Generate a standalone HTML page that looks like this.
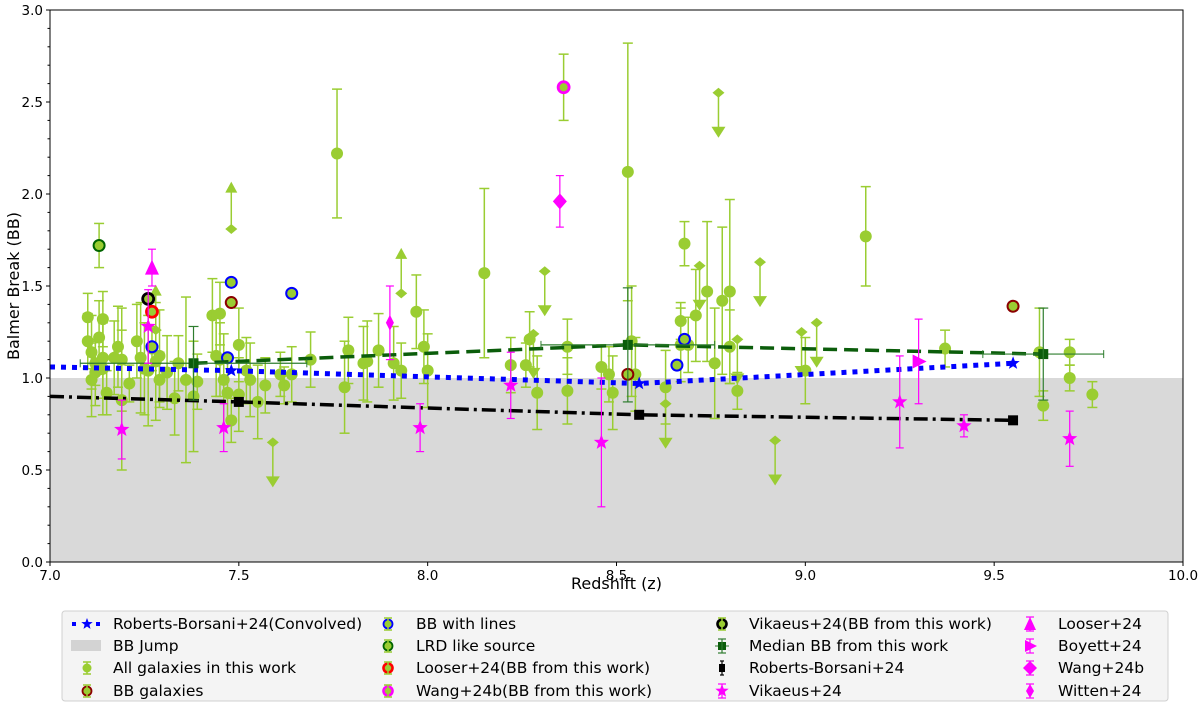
<!DOCTYPE html>
<html><head><meta charset="utf-8"><style>
body{margin:0;background:#fff;width:1200px;height:712px;overflow:hidden;font-family:"DejaVu Sans","Liberation Sans",sans-serif}
svg text{font-family:"DejaVu Sans","Liberation Sans",sans-serif}
</style></head><body>
<svg id="chart" width="1200" height="712" xmlns="http://www.w3.org/2000/svg"></svg>
<script>
// ---- data ----
const galZ  =[7.13,7.10,7.10,7.11,7.11,7.12,7.12,7.13,7.14,7.14,7.14,7.15,7.17,7.18,7.19,7.19,7.21,7.23,7.24,7.25,7.26,7.27,7.28,7.29,7.29,7.31,7.33,7.34,7.36,7.38,7.39,7.43,7.44,7.45,7.45,7.46,7.47,7.48,7.50,7.50,7.52,7.53,7.55,7.57,7.61,7.62,7.64,7.69,7.76,7.78,7.79,7.83,7.84,7.87,7.91,7.93,7.97,7.99,8.00,8.15,8.22,8.26,8.27,8.29,8.37,8.37,8.46,8.48,8.49,8.53,8.54,8.55,8.63,8.67,8.67,8.68,8.69,8.71,8.74,8.76,8.78,8.80,8.80,8.82,9.00,9.16,9.37,9.62,9.63,9.70,9.70,9.76,8.36];
const galBB =[1.72,1.33,1.20,1.14,0.99,1.08,1.03,1.22,1.32,1.11,1.05,0.92,1.11,1.17,1.10,0.88,0.97,1.20,1.11,1.05,1.04,1.16,1.09,1.12,0.99,1.03,0.89,1.08,0.99,0.90,0.98,1.34,1.12,1.35,1.10,0.99,0.92,0.77,1.18,0.91,1.04,0.99,0.87,0.96,1.02,0.96,1.02,1.10,2.22,0.95,1.15,1.08,1.09,1.15,1.08,1.04,1.36,1.17,1.04,1.57,1.07,1.07,1.21,0.92,1.17,0.93,1.06,1.02,0.92,2.12,1.20,1.02,0.95,1.18,1.31,1.73,1.18,1.34,1.47,1.08,1.42,1.47,1.17,0.93,1.04,1.77,1.16,1.14,0.85,1.14,1.00,0.91,2.58];
const galErr=[0.12,0.13,0.15,0.2,0.2,0.12,0.18,0.2,0.15,0.22,0.25,0.12,0.2,0.22,0.28,0.38,0.1,0.2,0.3,0.25,0.3,0.12,0.32,0.25,0.15,0.2,0.2,0.15,0.45,0.3,0.15,0.2,0.22,0.17,0.2,0.25,0.18,0.12,0.2,0.2,0.18,0.2,0.2,0.15,0.12,0.1,0.15,0.15,0.35,0.25,0.18,0.2,0.22,0.2,0.2,0.15,0.2,0.2,0.2,0.46,0.15,0.12,0.15,0.2,0.15,0.18,0.12,0.15,0.2,0.7,0.3,0.2,0.2,0.2,0.1,0.12,0.15,0.25,0.38,0.3,0.4,0.5,0.2,0.1,0.18,0.27,0.1,0.24,0.08,0.07,0.07,0.07,0.18];
const ulZ =[7.59,8.31,8.28,8.63,8.72,8.77,8.88,8.82,8.99,9.03,8.92];
const ulBB=[0.65,1.58,1.24,0.86,1.61,2.55,1.63,1.21,1.25,1.30,0.66];
const llZ =[7.48,7.28,7.93];
const llBB=[1.81,1.26,1.46];
const llTop=[2.04,1.48,1.68];
const vikZ =[7.19,7.26,7.46,7.98,8.22,8.46,9.25,9.42,9.70];
const vikBB=[0.72,1.28,0.73,0.73,0.96,0.65,0.87,0.74,0.67];
const vikErr=[0.16,0.2,0.13,0.13,0.18,0.35,0.25,0.06,0.15];
const linesZ=[7.27,7.48,7.47,7.64,8.66,8.68];
const linesBB=[1.17,1.52,1.11,1.46,1.07,1.21];
const bbgZ=[7.48,8.53,9.55];
const bbgBB=[1.41,1.02,1.39];
const medZ=[7.38,8.53,9.63];
const medBB=[1.08,1.18,1.13];
const medXErr=[0.3,0.23,0.16];
const medYErr=[0.2,0.31,0.25];
const rbcZ=[7.0,7.48,8.56,9.55];
const rbcBB=[1.06,1.04,0.97,1.08];
const rbZ=[7.0,7.50,8.56,9.55];
const rbBB=[0.90,0.87,0.80,0.77];
const xTicks=["7.0","7.5","8.0","8.5","9.0","9.5","10.0"];
const yTicks=["0.0","0.5","1.0","1.5","2.0","2.5","3.0"];

// ---- scales ----
const X0=50,X1=1183,Y0=562,Y1=10;
const sx=z=>X0+(z-7)/3*(X1-X0);
const sy=b=>Y0-b/3*(Y0-Y1);
const svg=document.getElementById('chart');
const NS='http://www.w3.org/2000/svg';
function el(tag,attrs,parent){const e=document.createElementNS(NS,tag);for(const k in attrs)e.setAttribute(k,attrs[k]);(parent||svg).appendChild(e);return e;}
const G='#9acd32',M='#ff00ff';

let r=el('rect',{x:X0,y:Y1,width:X1-X0,height:Y0-Y1,fill:'#fff'});


r=el('rect',{x:X0,y:sy(1),width:X1-X0,height:Y0-sy(1),fill:'#d9d9d9'});



function errV(x,y1,y2,c,w,cap){el('line',{x1:x,x2:x,y1:y1,y2:y2,stroke:c,'stroke-width':w||1.5});el('line',{x1:x-cap,x2:x+cap,y1:y1,y2:y1,stroke:c,'stroke-width':w||1.5});el('line',{x1:x-cap,x2:x+cap,y1:y2,y2:y2,stroke:c,'stroke-width':w||1.5});}
function star(cx,cy,R,fill,g){let p=[];for(let i=0;i<10;i++){const a=-Math.PI/2+i*Math.PI/5;const rr=i%2?R*0.42:R;p.push((cx+rr*Math.cos(a)).toFixed(1)+','+(cy+rr*Math.sin(a)).toFixed(1));}return el('polygon',{points:p.join(' '),fill:fill},g);}

for(let i=0;i<galZ.length;i++){const g=el('g',{});


const x=sx(galZ[i]),y=sy(galBB[i]);errV(x,sy(galBB[i]+galErr[i]),sy(Math.max(0,galBB[i]-galErr[i])),G,1.5,5);
el('circle',{cx:x,cy:y,r:6,fill:G},g);}
for(let i=0;i<ulZ.length;i++){const g=el('g',{});


const x=sx(ulZ[i]),y=sy(ulBB[i]);el('line',{x1:x,x2:x,y1:y,y2:y+38,stroke:G,'stroke-width':1.5},g);
el('polygon',{points:`${x-7},${y+34} ${x+7},${y+34} ${x},${y+45}`,fill:G},g);
el('polygon',{points:`${x-6},${y} ${x},${y-5} ${x+6},${y} ${x},${y+5}`,fill:G},g);}
for(let i=0;i<llZ.length;i++){const g=el('g',{});


const x=sx(llZ[i]),y=sy(llBB[i]),t=sy(llTop[i]);el('line',{x1:x,x2:x,y1:y,y2:t,stroke:G,'stroke-width':1.5},g);
el('polygon',{points:`${x-6},${t+6} ${x+6},${t+6} ${x},${t-5}`,fill:G},g);
el('polygon',{points:`${x-6},${y} ${x},${y-5} ${x+6},${y} ${x},${y+5}`,fill:G},g);}

function ring(z,b,c,name,w){const e=el('circle',{cx:sx(z),cy:sy(b),r:5.5,fill:G,stroke:c,'stroke-width':w||2});}
for(let i=0;i<linesZ.length;i++){ring(linesZ[i],linesBB[i],'#0000ff','bb-with-lines-point');}
for(let i=0;i<bbgZ.length;i++){ring(bbgZ[i],bbgBB[i],'#8b0000','bb-galaxy-point');}
ring(7.13,1.72,'#006400','lrd-source-point');
ring(7.26,1.43,'#000','vikaeus-this-work-point',2.8);
ring(7.27,1.36,'#ff0000','looser-this-work-point',2.8);
ring(8.36,2.58,M,'wang-this-work-point',2.8);

let pts=rbcZ.map((z,i)=>sx(z)+','+sy(rbcBB[i])).join(' ');
let pl=el('polyline',{points:pts,fill:'none',stroke:'#0000ff','stroke-width':5,'stroke-dasharray':'5,6'});


for(let i=1;i<rbcZ.length;i++){const s=star(sx(rbcZ[i]),sy(rbcBB[i]),7,'#0000ff');}
pts=rbZ.map((z,i)=>sx(z)+','+sy(rbBB[i])).join(' ');
pl=el('polyline',{points:pts,fill:'none',stroke:'#000','stroke-width':3.5,'stroke-dasharray':'14,5,3,5'});


for(let i=1;i<rbZ.length;i++){const s=el('rect',{x:sx(rbZ[i])-5,y:sy(rbBB[i])-5,width:10,height:10,fill:'#000'});}
pts=medZ.map((z,i)=>sx(z)+','+sy(medBB[i])).join(' ');
pl=el('polyline',{points:pts,fill:'none',stroke:'#0b5d0b','stroke-width':3.5,'stroke-dasharray':'14,7'});


for(let i=0;i<medZ.length;i++){const g=el('g',{});


const x=sx(medZ[i]),y=sy(medBB[i]),c='#2e7d2e';
el('line',{x1:sx(medZ[i]-medXErr[i]),x2:sx(medZ[i]+medXErr[i]),y1:y,y2:y,stroke:c,'stroke-width':1.2},g);
el('line',{x1:sx(medZ[i]-medXErr[i]),x2:sx(medZ[i]-medXErr[i]),y1:y-4,y2:y+4,stroke:c},g);
el('line',{x1:sx(medZ[i]+medXErr[i]),x2:sx(medZ[i]+medXErr[i]),y1:y-4,y2:y+4,stroke:c},g);
errV(x,sy(medBB[i]+medYErr[i]),sy(medBB[i]-medYErr[i]),c,1.2,5);
el('rect',{x:x-5,y:y-5,width:10,height:10,fill:'#0b5d0b'},g);}

for(let i=0;i<vikZ.length;i++){const g=el('g',{});


const x=sx(vikZ[i]);errV(x,sy(vikBB[i]+vikErr[i]),sy(vikBB[i]-vikErr[i]),M,1.2,4);star(x,sy(vikBB[i]),8,M,g);}
function mg(z,b,e,name,shape){const x=sx(z),y=sy(b);const g=el('g',{});
errV(x,sy(b+e),sy(b-e),M,1.2,4);
if(shape==='tri')el('polygon',{points:`${x-7},${y+7} ${x+7},${y+7} ${x},${y-8}`,fill:M},g);
if(shape==='right')el('polygon',{points:`${x-6},${y-7} ${x-6},${y+7} ${x+8},${y}`,fill:M},g);
if(shape==='dia')el('polygon',{points:`${x-7},${y} ${x},${y-8} ${x+7},${y} ${x},${y+8}`,fill:M},g);
if(shape==='thin')el('polygon',{points:`${x-4},${y} ${x},${y-8} ${x+4},${y} ${x},${y+8}`,fill:M},g);}
mg(7.27,1.60,0.1,'looser-point','tri');
mg(9.30,1.09,0.23,'boyett-point','right');
mg(8.35,1.96,0.14,'wang-point','dia');
mg(7.90,1.30,0.2,'witten-point','thin');

r=el('rect',{x:X0,y:Y1,width:X1-X0,height:Y0-Y1,fill:'none',stroke:'#000','stroke-width':1});


xTicks.forEach((t,i)=>{const x=sx(+t);el('line',{x1:x,x2:x,y1:Y0,y2:Y0+4,stroke:'#000'});
const tx=el('text',{x:x,y:Y0+18,'text-anchor':'middle','font-size':13.5});tx.textContent=t;

});
for(let v=0;v<=3.001;v+=0.1){const y=sy(v);el('line',{x1:X0,x2:X0-2.5,y1:y,y2:y,stroke:'#000'});}
yTicks.forEach(t=>{const y=sy(+t);el('line',{x1:X0,x2:X0-4,y1:y,y2:y,stroke:'#000'});
const tx=el('text',{x:X0-7,y:y+5,'text-anchor':'end','font-size':13.5});tx.textContent=t;

});
let tt=el('text',{x:(X0+X1)/2,y:589,'text-anchor':'middle','font-size':16});tt.textContent='Redshift (z)';


tt=el('text',{x:19,y:286,'text-anchor':'middle','font-size':16,transform:'rotate(-90 19 286)'});tt.textContent='Balmer Break (BB)';



const lg=el('g',{});


el('rect',{x:62,y:611,width:1106,height:90,rx:3,fill:'#f4f4f4',stroke:'#d0d0d0'},lg);
const legLabels=[["Roberts-Borsani+24(Convolved)","BB Jump","All galaxies in this work","BB galaxies"],["BB with lines","LRD like source","Looser+24(BB from this work)","Wang+24b(BB from this work)"],["Vikaeus+24(BB from this work)","Median BB from this work","Roberts-Borsani+24","Vikaeus+24"],["Looser+24","Boyett+24","Wang+24b","Witten+24"]];
const colX=[[87,113],[388,416],[722,749],[1030,1058]];const rowY=[624,646,668,691];
legLabels.forEach((col,c)=>col.forEach((lab,ri)=>{const t=el('text',{x:colX[c][1],y:rowY[ri]+5,'font-size':15.5},lg);t.textContent=lab;

}));
function lh(c,ri,fn){const x=colX[c][0],y=rowY[ri];fn(x,y);}
lh(0,0,(x,y)=>{el('rect',{x:x-15,y:y-2,width:4,height:4,fill:'#00f'},lg);el('rect',{x:x+9,y:y-2,width:4,height:4,fill:'#00f'},lg);star(x,y,6,'#00f',lg);});
lh(0,1,(x,y)=>el('rect',{x:x-16,y:y-6,width:30,height:11,fill:'#d3d3d3'},lg));
function lcirc(x,y,st,w){errV(x,y-6,y+6,G,1.5,4);el('circle',{cx:x,cy:y,r:4.5,fill:G,stroke:st||'none','stroke-width':w||1.8},lg);}
lh(0,2,(x,y)=>lcirc(x,y));lh(0,3,(x,y)=>lcirc(x,y,'#8b0000'));
lh(1,0,(x,y)=>lcirc(x,y,'#00f'));lh(1,1,(x,y)=>lcirc(x,y,'#006400'));
lh(1,2,(x,y)=>lcirc(x,y,'#f00',2.6));lh(1,3,(x,y)=>lcirc(x,y,M,2.6));
lh(2,0,(x,y)=>lcirc(x,y,'#000',2.6));
lh(2,1,(x,y)=>{errV(x,y-7,y+7,'#2e7d2e',1.2,4);el('line',{x1:x-7,x2:x+7,y1:y,y2:y,stroke:'#2e7d2e'},lg);el('rect',{x:x-4,y:y-4,width:8,height:8,fill:'#0b5d0b'},lg);});
lh(2,2,(x,y)=>{errV(x,y-7,y+7,'#000',1.2,2);el('rect',{x:x-3,y:y-4,width:6,height:8,fill:'#000'},lg);});
lh(2,3,(x,y)=>{errV(x,y-7,y+7,M,1.2,4);star(x,y,7,M,lg);});
lh(3,0,(x,y)=>{errV(x,y-7,y+7,M,1.2,4);el('polygon',{points:`${x-6},${y+6} ${x+6},${y+6} ${x},${y-7}`,fill:M},lg);});
lh(3,1,(x,y)=>{errV(x,y-7,y+7,M,1.2,4);el('polygon',{points:`${x-5},${y-6} ${x-5},${y+6} ${x+7},${y}`,fill:M},lg);});
lh(3,2,(x,y)=>{errV(x,y-7,y+7,M,1.2,4);el('polygon',{points:`${x-7},${y} ${x},${y-7} ${x+7},${y} ${x},${y+7}`,fill:M},lg);});
lh(3,3,(x,y)=>{errV(x,y-7,y+7,M,1.2,4);el('polygon',{points:`${x-4},${y} ${x},${y-7} ${x+4},${y} ${x},${y+7}`,fill:M},lg);});
</script>
</body></html>
